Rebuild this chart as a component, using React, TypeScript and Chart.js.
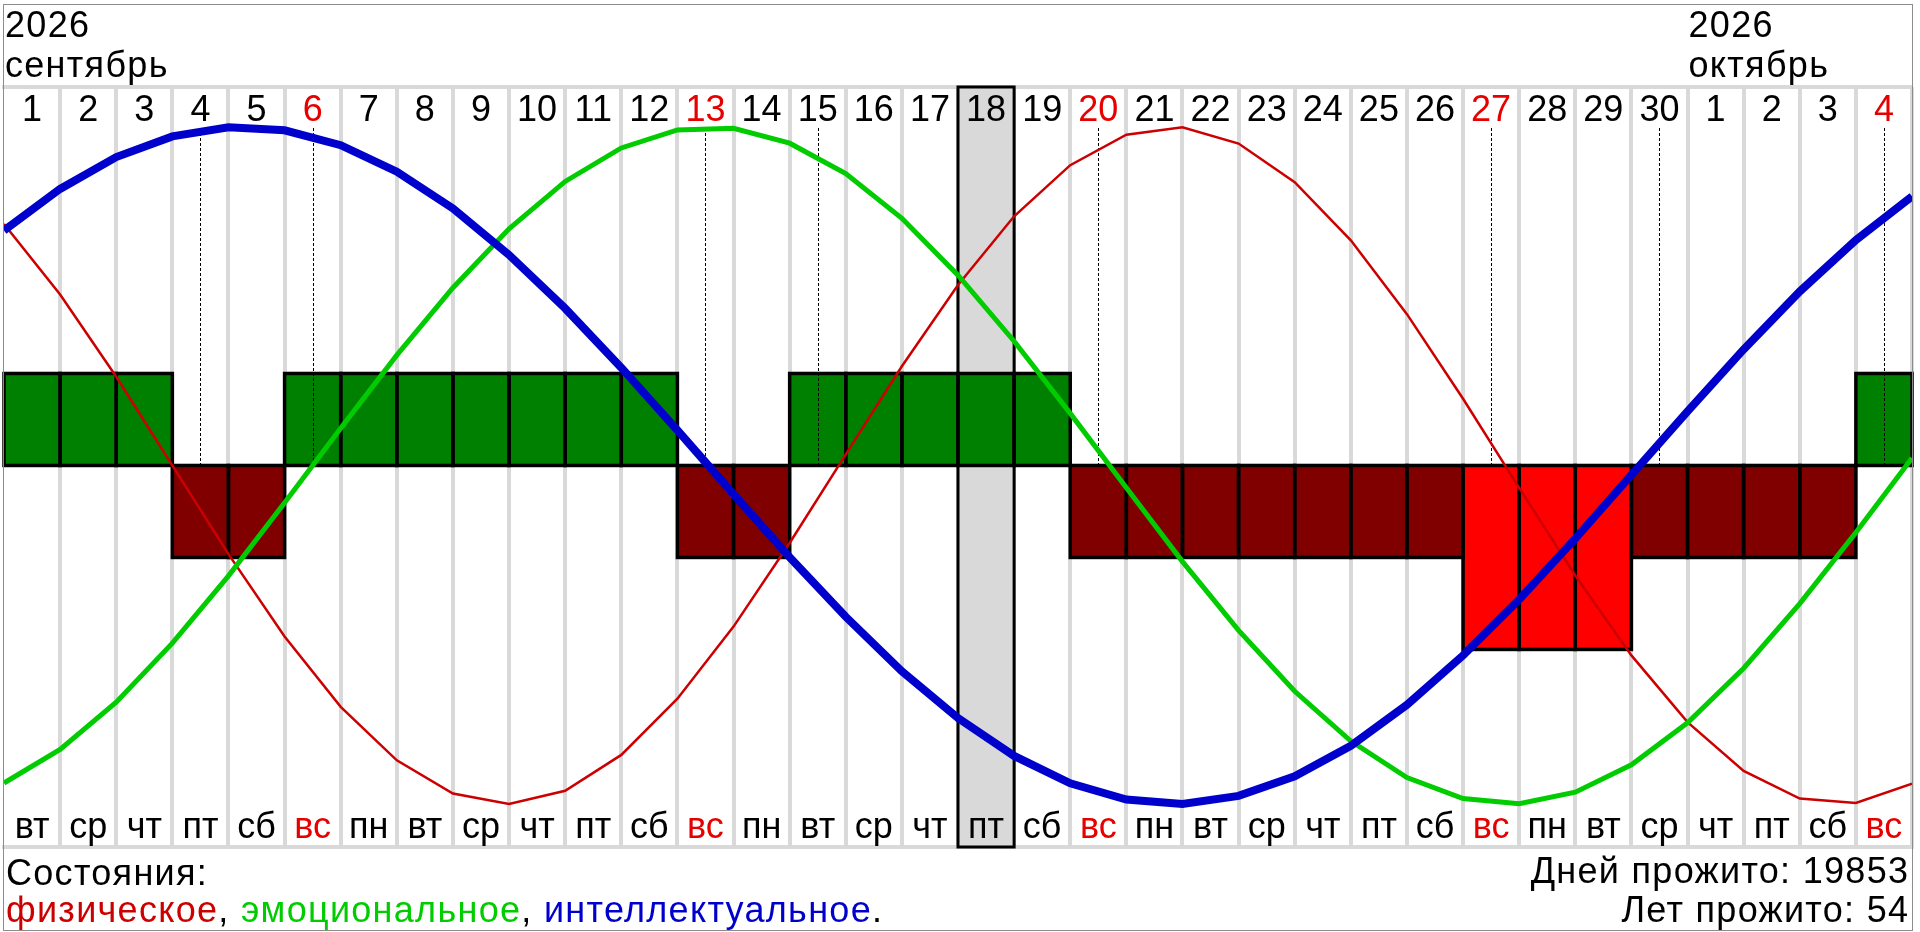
import { useEffect, useRef } from 'react';
import { Chart, registerables } from 'chart.js';

Chart.register(...registerables);

// ---- data ----
const dayNumbers = [
  '1', '2', '3', '4', '5', '6', '7', '8', '9', '10', '11', '12', '13', '14', '15', '16', '17',
  '18', '19', '20', '21', '22', '23', '24', '25', '26', '27', '28', '29', '30', '1', '2', '3', '4',
];
const weekdays = [
  'вт', 'ср', 'чт', 'пт', 'сб', 'вс', 'пн', 'вт', 'ср', 'чт', 'пт', 'сб', 'вс', 'пн', 'вт', 'ср', 'чт',
  'пт', 'сб', 'вс', 'пн', 'вт', 'ср', 'чт', 'пт', 'сб', 'вс', 'пн', 'вт', 'ср', 'чт', 'пт', 'сб', 'вс',
];
const monthStarts = [0, 30];
const monthYears = ['2026', '2026'];
const monthNames = ['сентябрь', 'октябрь'];

// curve values at day boundaries (35 points)
const physical = [
  0.713, 0.505, 0.262, 0.0, -0.262, -0.505, -0.713, -0.871, -0.969, -1.0, -0.961, -0.855, -0.689,
  -0.476, -0.229, 0.033, 0.293, 0.533, 0.736, 0.887, 0.977, 0.999, 0.951, 0.837, 0.665, 0.447,
  0.197, -0.066, -0.325, -0.561, -0.758, -0.902, -0.984, -0.997, -0.940,
];
const emotional = [
  -0.938, -0.839, -0.699, -0.525, -0.326, -0.110, 0.110, 0.326, 0.525, 0.699, 0.839, 0.938, 0.991,
  0.996, 0.952, 0.862, 0.730, 0.562, 0.367, 0.154, -0.066, -0.284, -0.487, -0.667, -0.814, -0.922,
  -0.984, -0.999, -0.965, -0.884, -0.760, -0.599, -0.408, -0.198, 0.022,
];
const intellectual = [
  0.694, 0.817, 0.911, 0.972, 0.999, 0.990, 0.946, 0.868, 0.759, 0.622, 0.464, 0.289, 0.104,
  -0.085, -0.271, -0.447, -0.608, -0.746, -0.858, -0.939, -0.987, -1.0, -0.976, -0.918, -0.828,
  -0.707, -0.561, -0.396, -0.216, -0.028, 0.160, 0.343, 0.514, 0.666, 0.795,
];
// daily overall state: 1 good, -1 bad, -2 critical
const states = [
  1, 1, 1, -1, -1, 1, 1, 1, 1, 1, 1, 1, -1, -1, 1, 1, 1, 1, 1, -1, -1, -1, -1, -1, -1, -1, -2, -2,
  -2, -1, -1, -1, -1, 1,
];
const criticalDays = [3, 5, 12, 14, 19, 26, 29, 33];
const todayIndex = 17;
const daysLived = 19853;
const yearsLived = 54;

// ---- styles ----
const W = 1920;
const H = 932;
const PAD = { left: 4, right: 8, top: 87, bottom: 85 };
const Y_MIN = -1.127;
const Y_MAX = 1.118;
const BAR_SCALE = 3.68;
const BAR_BORDER = 3.5;
const FONT = '36px "Liberation Sans", Arial, sans-serif';
const WIDE = 1.3; // extra letter spacing for header/footer captions
const RED = '#cc0000';
const GREEN = '#00cc00';
const BLUE = '#0000cc';
const SUNDAY = '#e60000';
const GRID = '#d9d9d9';

export default function App() {
  const ref = useRef<HTMLCanvasElement>(null);

  useEffect(() => {
    const canvas = ref.current;
    if (!canvas) return;
    const barMin = Y_MIN * BAR_SCALE;
    const barMax = Y_MAX * BAR_SCALE;
    const stateColor = (s: number) => (s > 0 ? '#008000' : s <= -2 ? '#ff0000' : '#800000');

    const legendParts = [
      { t: 'физическое', c: RED },
      { t: ', ', c: '#000' },
      { t: 'эмоциональное', c: GREEN },
      { t: ', ', c: '#000' },
      { t: 'интеллектуальное', c: BLUE },
      { t: '.', c: '#000' },
    ];

    const setSpacing = (ctx: any, px: number) => {
      if ('letterSpacing' in ctx) ctx.letterSpacing = `${px}px`;
    };

    const decor = {
      id: 'decor',
      beforeDatasetsDraw(chart: any) {
        const { ctx, chartArea: ca, scales } = chart;
        const l = scales.x.getPixelForValue(todayIndex);
        const r = scales.x.getPixelForValue(todayIndex + 1);
        ctx.save();
        ctx.fillStyle = GRID;
        ctx.fillRect(l, ca.top, r - l, ca.bottom - ca.top);
        ctx.strokeStyle = '#000';
        ctx.lineWidth = 3;
        ctx.strokeRect(l, ca.top, r - l, ca.bottom - ca.top);
        ctx.restore();
      },
      afterDatasetDraw(chart: any, args: any) {
        if (args.index !== 0) return;
        const { ctx, chartArea: ca, scales } = chart;
        ctx.save();
        // black outlines of the state bars, centred on the bar edges
        ctx.strokeStyle = '#000';
        ctx.lineWidth = BAR_BORDER;
        ctx.lineJoin = 'miter';
        args.meta.data.forEach((el: any) => {
          const left = el.x - el.width / 2;
          const top = Math.min(el.y, el.base);
          const h = Math.abs(el.y - el.base);
          ctx.strokeRect(left, top, el.width, h);
        });
        // dotted critical-day markers
        const y0 = scales.y.getPixelForValue(0);
        ctx.lineWidth = 1;
        ctx.setLineDash([3, 2]);
        criticalDays.forEach((i) => {
          const x = Math.round(scales.x.getPixelForValue(i + 0.5)) + 0.5;
          ctx.beginPath();
          ctx.moveTo(x, ca.top + 41);
          ctx.lineTo(x, y0);
          ctx.stroke();
        });
        ctx.restore();
      },
      afterDraw(chart: any) {
        const { ctx, chartArea: ca, scales } = chart;
        const xs = scales.x;
        ctx.save();
        ctx.font = FONT;
        ctx.textBaseline = 'alphabetic';

        // day numbers and weekdays
        setSpacing(ctx, 0);
        ctx.textAlign = 'center';
        dayNumbers.forEach((d, i) => {
          const cx = xs.getPixelForValue(i + 0.5);
          ctx.fillStyle = weekdays[i] === 'вс' ? SUNDAY : '#000';
          ctx.fillText(d, cx, ca.top + 33.5);
          ctx.fillText(weekdays[i], cx, ca.bottom - 9);
        });

        // month captions
        setSpacing(ctx, WIDE);
        ctx.textAlign = 'left';
        ctx.fillStyle = '#000';
        monthStarts.forEach((s, k) => {
          const px = xs.getPixelForValue(s) + 1;
          ctx.fillText(monthYears[k], px, 37);
          ctx.fillText(monthNames[k], px, 77);
        });

        // footer
        ctx.fillText('Состояния:', 6, 885);
        let lx = 6;
        legendParts.forEach((p) => {
          ctx.fillStyle = p.c;
          ctx.fillText(p.t, lx, 922);
          lx += ctx.measureText(p.t).width;
        });
        ctx.textAlign = 'right';
        ctx.fillStyle = '#000';
        ctx.fillText(`Дней прожито: ${daysLived}`, 1908 + WIDE, 883);
        ctx.fillText(`Лет прожито: ${yearsLived}`, 1908 + WIDE, 922);

        // frame
        ctx.strokeStyle = '#8c8c8c';
        ctx.lineWidth = 1;
        ctx.strokeRect(3.5, 4.5, 1909, 926);
        ctx.restore();
      },
    };

    const chart = new Chart(canvas, {
      type: 'bar',
      data: {
        datasets: [
          {
            type: 'bar',
            data: states.map((s, i) => ({ x: i + 0.5, y: s })),
            backgroundColor: states.map(stateColor),
            borderWidth: 0,
            barPercentage: 1,
            categoryPercentage: 1,
            xAxisID: 'x',
            yAxisID: 'yBar',
            order: 4,
          },
          {
            type: 'line',
            data: physical.map((v, i) => ({ x: i, y: v })),
            borderColor: RED,
            borderWidth: 2.5,
            pointRadius: 0,
            tension: 0,
            xAxisID: 'x',
            yAxisID: 'y',
            order: 3,
          },
          {
            type: 'line',
            data: emotional.map((v, i) => ({ x: i, y: v })),
            borderColor: GREEN,
            borderWidth: 5,
            pointRadius: 0,
            tension: 0,
            xAxisID: 'x',
            yAxisID: 'y',
            order: 2,
          },
          {
            type: 'line',
            data: intellectual.map((v, i) => ({ x: i, y: v })),
            borderColor: BLUE,
            borderWidth: 8,
            pointRadius: 0,
            tension: 0,
            xAxisID: 'x',
            yAxisID: 'y',
            order: 1,
          },
        ],
      } as any,
      options: {
        responsive: false,
        animation: false,
        devicePixelRatio: 1,
        events: [],
        layout: { padding: PAD },
        plugins: { legend: { display: false }, tooltip: { enabled: false }, title: { display: false } },
        scales: {
          x: {
            type: 'linear',
            position: 'bottom',
            min: 0,
            max: dayNumbers.length,
            offset: false,
            ticks: { display: false, stepSize: 1 },
            grid: {
              offset: false,
              color: (c: any) => (c.tick && c.tick.value === 0 ? 'rgba(0,0,0,0)' : GRID),
              lineWidth: 4,
              drawTicks: false,
            },
            border: { display: true, color: GRID, width: 4 },
          },
          xTop: {
            type: 'linear',
            position: 'top',
            min: 0,
            max: dayNumbers.length,
            offset: false,
            ticks: { display: false },
            grid: { display: false, drawTicks: false },
            border: { display: true, color: GRID, width: 4 },
          },
          y: { type: 'linear', min: Y_MIN, max: Y_MAX, display: false },
          yBar: { type: 'linear', min: barMin, max: barMax, display: false },
        },
      } as any,
      plugins: [decor],
    });
    return () => chart.destroy();
  }, []);

  return (
    <div style={{ position: 'fixed', left: 0, top: 0, width: W, height: H, background: '#fff' }}>
      <canvas ref={ref} width={W} height={H} style={{ display: 'block' }} />
    </div>
  );
}
